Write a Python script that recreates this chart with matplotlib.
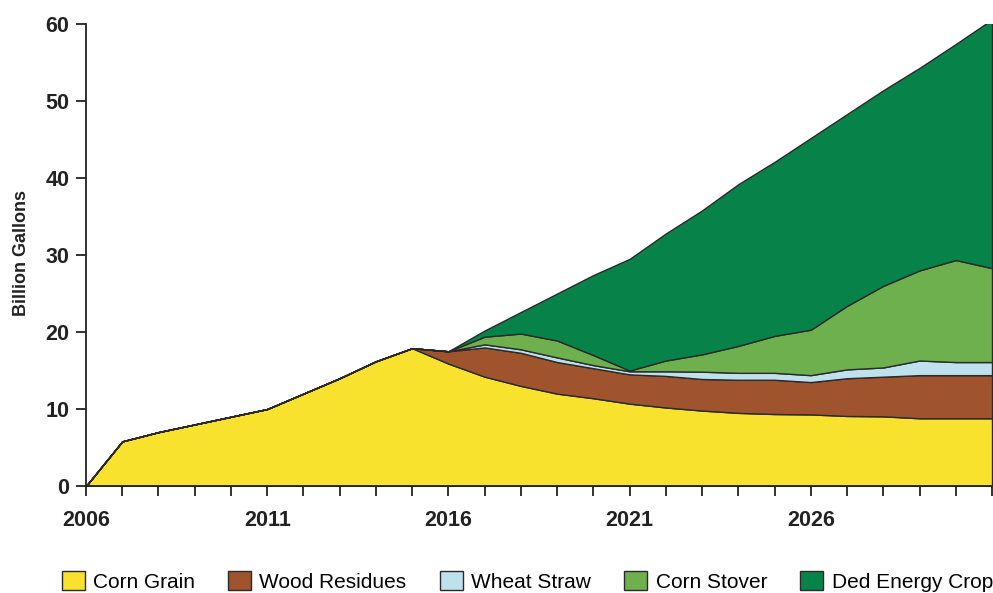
import matplotlib.pyplot as plt
from matplotlib.patches import Patch
from matplotlib.ticker import FixedLocator, MultipleLocator

plt.rcParams["font.family"] = ["Liberation Sans", "DejaVu Sans"]

years = list(range(2006, 2032))
year_ticks = [2006, 2011, 2016, 2021, 2026]

# values, billion gallons
corn_grain = [0, 5.8, 7.0, 8.0, 9.0, 10.0, 12.0, 14.0, 16.2, 17.9,
              15.9, 14.2, 13.0, 12.0, 11.4, 10.7, 10.2, 9.8, 9.5, 9.35,
              9.3, 9.1, 9.05, 8.8, 8.8, 8.8]
wood_residues = [0, 0, 0, 0, 0, 0, 0, 0, 0, 0,
                 1.6, 3.8, 4.3, 4.1, 3.9, 3.8, 4.1, 4.1, 4.3, 4.45,
                 4.2, 4.9, 5.15, 5.6, 5.6, 5.6]
wheat_straw = [0, 0, 0, 0, 0, 0, 0, 0, 0, 0,
               0, 0.4, 0.45, 0.6, 0.4, 0.4, 0.6, 0.95, 0.9, 0.9,
               0.9, 1.15, 1.2, 1.9, 1.7, 1.7]
corn_stover = [0, 0, 0, 0, 0, 0, 0, 0, 0, 0,
               0, 1.0, 2.05, 2.2, 1.3, 0.1, 1.4, 2.25, 3.5, 4.8,
               5.9, 8.25, 10.6, 11.7, 13.25, 12.2]
ded_energy_crop = [0, 0, 0, 0, 0, 0, 0, 0, 0, 0,
                   0, 0.8, 2.8, 6.1, 10.4, 14.5, 16.5, 18.7, 21.0, 22.6,
                   24.9, 24.9, 25.4, 26.3, 28.05, 32.3]

labels = ["Corn Grain", "Wood Residues", "Wheat Straw", "Corn Stover", "Ded Energy Crop"]
colors = ["#F8E22E", "#A0542E", "#BFE1EE", "#6EAF4E", "#07834A"]
edge = "#2a2a2a"
text_color = "#222222"

fig = plt.figure(figsize=(9.93, 5.93), dpi=100)
ax = fig.add_axes([0.0866, 0.1804, 0.9124, 0.7791])

ax.stackplot(years, corn_grain, wood_residues, wheat_straw, corn_stover,
             ded_energy_crop, colors=colors, edgecolor=edge, linewidth=1.0)

ax.set_xlim(2006, 2031)
ax.set_ylim(0, 60)
ax.xaxis.set_major_locator(FixedLocator(year_ticks))
ax.xaxis.set_minor_locator(FixedLocator(years))
ax.yaxis.set_major_locator(MultipleLocator(10))

for side in ["top", "right"]:
    ax.spines[side].set_visible(False)
for side in ["left", "bottom"]:
    ax.spines[side].set_linewidth(1.3)
    ax.spines[side].set_color(text_color)

ax.tick_params(axis="both", which="both", direction="out", color=text_color, width=1.3)
ax.tick_params(axis="x", which="major", length=7, pad=10, labelsize=15.5)
ax.tick_params(axis="x", which="minor", length=7)
ax.tick_params(axis="y", which="major", length=7, pad=5, labelsize=15.5)
for lbl in ax.get_xticklabels() + ax.get_yticklabels():
    lbl.set_fontweight("bold")
    lbl.set_color(text_color)

ax.set_ylabel("Billion Gallons", fontsize=13, fontweight="bold", color=text_color)
ax.yaxis.set_label_coords(-0.062, 0.505)

handles = [Patch(facecolor=c, edgecolor=edge, linewidth=1.0) for c in colors]
fig.legend(handles, labels, loc="lower center", bbox_to_anchor=(0.531, 0.002), ncol=5,
           frameon=False, fontsize=15, handlelength=1.1, handleheight=1.05,
           columnspacing=1.6, handletextpad=0.4, borderpad=0, borderaxespad=0)

fig.savefig("out.png", dpi=100)
